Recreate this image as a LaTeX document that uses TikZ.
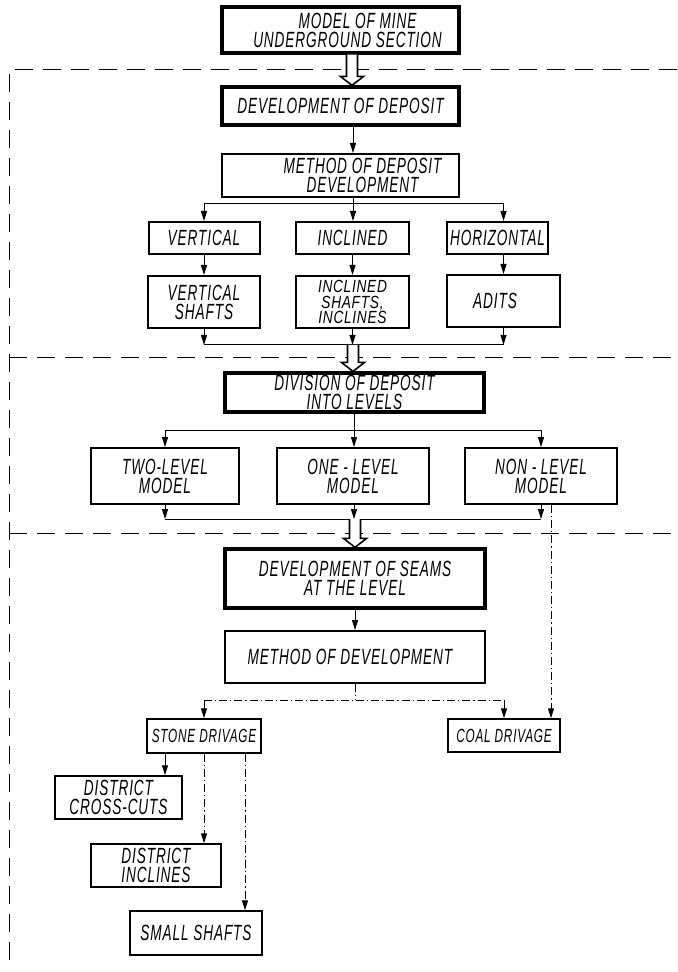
\documentclass[tikz,border=0pt]{standalone}
\usepackage{fontspec}
\newfontfamily\lbl[FakeStretch=0.62,LetterSpace=4]{Liberation Sans}
\usetikzlibrary{arrows.meta,calc}
\tikzset{
  bx/.style={draw, rectangle, inner sep=0pt, align=center,
    font=\lbl\itshape\fontsize{11}{9.5}\selectfont},
  sz/.style 2 args={minimum width=#1*0.5pt, minimum height=#2*0.5pt},
  thk/.style={bx, line width=1.6pt},
  thn/.style={bx, line width=1pt},
  sml/.style={bx, line width=0.75pt},
  conn/.style={line width=0.5pt},
  arr/.style={conn, -{Triangle[length=5pt,width=3pt]}},
  dd/.style={dash pattern=on 4pt off 1.5pt on 0.6pt off 1.5pt},
  sepline/.style={line width=0.5pt, dash pattern=on 9pt off 5pt},
  hol/.style={line width=0.8pt, fill=white, line join=miter},
}
\begin{document}
\begin{tikzpicture}[x=0.5pt,y=-0.5pt]
\useasboundingbox[fill=white] (0,0) rectangle (677,972);

% section dividers
\coordinate (R1) at (677,70);
\coordinate (L1) at (9,70);
\coordinate (LB) at (9,968);
\coordinate (L2) at (9,358);
\coordinate (R2) at (677,358);
\coordinate (L3) at (9,533);
\coordinate (R3) at (677,533);
\draw[sepline] (R1) -- (L1) -- (LB);
\draw[sepline] (L2) -- (R2);
\draw[sepline] (L3) -- (R3);

% nodes
\node[thk, sz={237}{46}] (top) at (340.5,30)
  {\hspace*{17pt}MODEL OF MINE\\\hspace*{7pt}UNDERGROUND SECTION};
\node[thk, sz={237}{38}] (dev) at (340.5,106) {DEVELOPMENT OF DEPOSIT};
\node[thn, sz={237}{43}] (mdd) at (340.5,175.5)
  {\hspace*{22pt}METHOD OF DEPOSIT\\\hspace*{22pt}DEVELOPMENT};

\node[thn, sz={111}{32}] (vert) at (204,238) {VERTICAL};
\node[thn, sz={113}{32}] (incl) at (352.5,238) {INCLINED};
\node[thn, sz={101}{32}] (horiz) at (497.5,238) {HORIZONTAL};

\node[thn, sz={112}{52}] (vshaft) at (204,302) {VERTICAL\\SHAFTS};
\node[thn, sz={113}{52}, font=\lbl\itshape\fontsize{8.8}{7.6}\selectfont\addfontfeature{FakeStretch=0.78}] (ishaft) at (352.5,302) {INCLINED\\SHAFTS,\\INCLINES};
\node[thn, sz={113}{52}] (adits) at (503.5,301) {\hspace*{-8.5pt}ADITS};

\node[thk, sz={259}{39}] (div) at (354.5,392.5) {DIVISION OF DEPOSIT\\INTO LEVELS};

\node[thn, sz={148}{56}] (two) at (165,476) {TWO-LEVEL\\MODEL};
\node[thn, sz={152}{56}] (one) at (353,476) {ONE - LEVEL\\MODEL};
\node[thn, sz={152}{56}] (non) at (541,476) {NON - LEVEL\\MODEL};

\node[thk, sz={260}{59}] (seams) at (355,578.5) {DEVELOPMENT OF SEAMS\\AT THE LEVEL};
\node[thn, sz={260}{52}] (mdev) at (355,657) {\hspace*{-5pt}METHOD OF DEVELOPMENT};

\node[sml, sz={114}{34}, font=\lbl\itshape\fontsize{9.5}{9}\selectfont] (stone) at (204,736) {STONE DRIVAGE};
\node[sml, sz={112}{33}, font=\lbl\itshape\fontsize{9.5}{9}\selectfont] (coal) at (504,735.5) {COAL DRIVAGE};

\node[sml, sz={127}{43}] (cross) at (118.5,797.5) {DISTRICT\\CROSS-CUTS};
\node[sml, sz={130}{43}] (dincl) at (156,865.5) {DISTRICT\\INCLINES};
\node[sml, sz={132}{44}] (small) at (196,933) {SMALL SHAFTS};

% spine coordinates
\coordinate (sp) at (352,0);
\coordinate (b1) at (353,204);
\coordinate (m1) at (353,345);
\coordinate (b2) at (354,430);
\coordinate (m2) at (355,519);
\coordinate (b3) at (355,700);
\coordinate (dn) at (551,0);
\coordinate (s1) at (165,0);
\coordinate (s3) at (245,0);

% hollow arrow 1
\draw[hol] ($(sp |- top.south)+(-5.5,0)$) -- ($(sp |- dev.north)+(-5.5,-9)$) -- ++(-6,0)
  -- (sp |- dev.north) -- ++(11.5,-9) -- ++(-6,0) -- ($(sp |- top.south)+(5.5,0)$);

\draw[arr] (dev.south -| b1) -- (mdd.north -| b1);
\draw[conn] (mdd.south -| b1) -- (b1);
\draw[conn] (b1 -| vert) -- (b1 -| adits);
\draw[arr] (b1 -| vert) -- (vert.north);
\draw[arr] (b1) -- (b1 |- incl.north);
\draw[arr] (b1 -| adits) -- (horiz.north -| adits);

\draw[arr] (vert) -- (vshaft);
\draw[arr] (incl) -- (ishaft);
\draw[arr] (horiz.south -| adits) -- (adits.north);

\draw[arr] (vshaft.south) -- (m1 -| vshaft);
\draw[arr] (ishaft.south) -- (m1 -| ishaft);
\draw[arr] (adits.south) -- (m1 -| adits);
\draw[conn] (m1 -| vshaft) -- (m1 -| adits);

% hollow arrow 2
\draw[hol] ($(m1)+(-5.5,0)$) -- ($(m1 |- div.north)+(-5.5,-9)$) -- ++(-6,0)
  -- (m1 |- div.north) -- ++(11.5,-9) -- ++(-6,0) -- ($(m1)+(5.5,0)$);

\draw[conn] (div.south -| b2) -- (b2);
\draw[conn] (b2 -| two) -- (b2 -| non);
\draw[arr] (b2 -| two) -- (two.north);
\draw[arr] (b2) -- (b2 |- one.north);
\draw[arr] (b2 -| non) -- (non.north);

\draw[arr] (two.south) -- (m2 -| two);
\draw[arr] (one.south -| b2) -- (m2 -| b2);
\draw[arr] (non.south) -- (m2 -| non);
\draw[conn] (m2 -| two) -- (m2 -| non);

\draw[arr, dd] (non.south -| dn) -- (coal.north -| dn);

% hollow arrow 3
\draw[hol] ($(m2)+(-5.5,0)$) -- ($(m2 |- seams.north)+(-5.5,-9)$) -- ++(-6,0)
  -- (m2 |- seams.north) -- ++(11.5,-9) -- ++(-6,0) -- ($(m2)+(5.5,0)$);

\draw[arr] (seams) -- (mdev);
\draw[conn, dd] (mdev.south) -- (b3);
\draw[conn, dd] (b3 -| stone) -- (b3 -| coal);
\draw[arr] (b3 -| stone) -- (stone.north);
\draw[arr] (b3 -| coal) -- (coal.north);

\draw[arr] (stone.south -| s1) -- (cross.north -| s1);
\draw[arr, dd] (stone.south) -- (stone.south |- dincl.north);
\draw[arr, dd] (stone.south -| s3) -- (small.north -| s3);
\end{tikzpicture}
\end{document}
